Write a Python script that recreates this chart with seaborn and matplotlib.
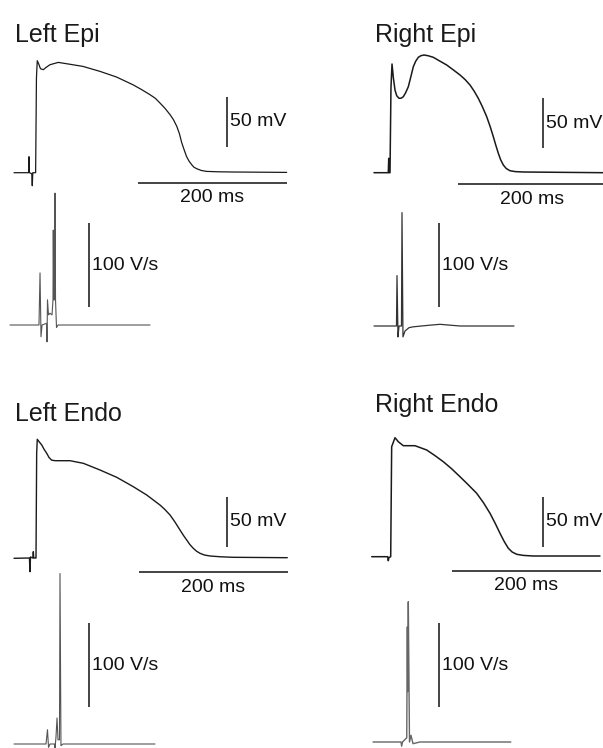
import matplotlib
matplotlib.use('Agg')
import matplotlib.pyplot as plt
import numpy as np
import seaborn as sns

sns.set_style('white')
plt.rcParams['font.family'] = ['Liberation Sans', 'DejaVu Sans']

# action potentials: time (ms, upstroke at 0) and membrane potential (mV)
left_epi_t = [-29.5, -10, -9.4, -8.8, -5.7, -5, -4.3, -0.5, 0.6, 1.7, 3.5, 6, 9.8, 13, 18.8, 29.9,
              45, 63, 86, 108, 130, 142, 153, 160, 166, 173, 180, 184.5, 189, 192.5, 195.6, 198.8,
              202, 205.5, 209, 212, 215.7, 222, 229, 245, 264, 336.5]
left_epi_v = [-85, -85, -69, -85, -86, -98, -85, -85, 10, 27, 24, 19, 18, 20, 23, 25.3,
              23.5, 21.3, 16.3, 10.7, 3, -2, -7, -10.5, -15, -20.5, -27, -32, -38.7, -46, -55, -62,
              -68.7, -73.5, -77, -79.5, -81, -82.8, -83.7, -84.1, -84.3, -84.7]

right_epi_t = [-21.5, -2.3, -1.7, -1.2, 0, 1.3, 2.7, 4.5, 6.7, 9, 12.1, 15, 17.9, 21, 24.6, 28, 31.3, 34.5, 38,
               41.5, 45.6, 51, 58.1, 66, 76.1, 85, 94, 101, 107.4, 113, 118.5, 124, 129.8, 134.5, 138.7,
               142, 145.4, 148.5, 152.1, 156, 161, 168, 178.9, 286.3]
right_epi_v = [-85, -85, -70.6, -85, -85, 0, 23.7, 10, -2.3, -8, -10.6, -10.5, -9, -5, 1, 11, 21, 26.5, 30.4,
               32, 32.7, 32, 30.4, 27, 22.7, 17.8, 12.7, 8, 2.7, -3.5, -10.6, -19, -29, -39, -49,
               -57.5, -65.6, -72, -77.3, -80.8, -83, -83.9, -84.3, -85]

left_endo_t = [-29.5, -8.8, -8.1, -7.4, -4.2, -3.6, -3, -1.3, 0, 0.9, 1.7, 4.5, 7.7, 11, 14.4, 17.5, 21.1, 26,
               32.2, 45.6, 63.5, 85.9, 108.3, 130.6, 148.6, 166.4, 173, 179.9, 186.5, 193.3, 198, 202.3,
               206.5, 211.1, 215.5, 220.1, 226, 233.6, 248, 264.8, 337.3]
left_endo_v = [-85.3, -85, -98.7, -84, -85, -78.7, -85, -85, -85, 20, 33.7, 31, 28, 23.5, 19.7, 15.5, 12.8, 12.3,
               12.3, 12.3, 9.7, 3, -4.3, -13.7, -22, -32, -36.5, -42, -49, -57, -62.5, -67,
               -71.5, -75.3, -78.2, -80.3, -82, -83, -83.8, -84.3, -84.7]

right_endo_t = [-25.5, -4, -3.2, -2.5, 0, 1.3, 5.8, 10.2, 16.9, 32.6, 48.3, 59, 70.6, 82, 93, 104, 115.4,
                124.5, 133.3, 140.5, 146.7, 152.5, 157.9, 163, 169.1, 178, 191.4, 280.9]
right_endo_v = [-85, -85, -89, -86, -85, 25, 34, 30, 26, 26, 21.7, 16.3, 10, 2.8, -5, -13, -21.6,
                -31, -41.6, -52, -61.6, -70, -76.6, -80.3, -82.6, -83.7, -84.3, -84.3]

# dV/dt traces: time (ms, peak at 0) and rate (V/s)
left_epi_dt = [-60.4, -21.5, -20.1, -18.8, -17.4, -11.4, -10.7, -10.1, -8.7, -6.7, -4.0, -2.7, -2.3, -1.7,
               -0.4, 0, 0.7, 2.0, 4.0, 127.5]
left_epi_dv = [0, 0, 62, -14, 0, 2, -20, 30, 12, 14, 12, 30, 113, 30, 30, 157, 30, -3, 0, 0]

right_epi_dt = [-37.6, -7.4, -6.7, -5.4, -4.0, -0.7, 0, 1.3, 4.0, 9.4, 14.8, 37.6, 51, 77.9, 150.3]
right_epi_dv = [0, 0, 60, -13, 0, 0, 135, -13, -6, -2, -1, 1, 2, 0, 0]

left_endo_dt = [-61.7, -18.8, -16.8, -15.4, -13.4, -7.4, -6.7, -5.4, -4.0, -2.7, -0.7, 0, 1.3, 4.0, 127.5]
left_endo_dv = [0, 0, 17, -4, 0, 0, -5, 8, 31, 5, 5, 203, -2, 0, 0]

right_endo_dt = [-47, -9.4, -8.5, -7.4, -1.7, -0.9, -0.4, 0.4, 2, 4, 6.7, 16, 138]
right_endo_dv = [0, 0, -5, 0, 5, 137, 60, 167, 0, 8, -2, 0, 0]

titles = ['Left Epi', 'Right Epi', 'Left Endo', 'Right Endo']

W, H = 603, 748
SX = 0.745   # px per ms
SY_AP = 1.0  # px per mV
SY_DV = 0.84 # px per V/s
LABEL_FS = 14
fig = plt.figure(figsize=(W / 100, H / 100), dpi=100)

ax_x0, ax_y0 = {}, {}


def make(x0, y0, sy, base):
    # full-figure transparent axes: (0 ms, base) sits at pixel (x0, y0)
    ax = fig.add_axes([0, 0, 1, 1])
    ax.set_xlim(-x0 / SX, (W - x0) / SX)
    ax.set_ylim(base + (y0 - H) / sy, base + y0 / sy)
    ax.axis('off')
    ax_x0[ax], ax_y0[ax] = x0, y0
    return ax


def trace(ax, t, v, color, lw):
    sns.lineplot(x=t, y=v, ax=ax, color=color, linewidth=lw, estimator=None, sort=False)


def ap_bars(ax, xv, yv, xh, yh):
    # 50 mV and 200 ms scale bars, positions given in pixels
    t_v = (xv - ax_x0[ax]) / SX
    v_top = -85 + (ax_y0[ax] - yv)
    ax.plot([t_v, t_v], [v_top - 50, v_top], color='#111111', lw=1.1, solid_capstyle='butt')
    ax.text(t_v + 3 / SX, v_top - 25, '50 mV', ha='left', va='center', fontsize=LABEL_FS, color='#111111')
    t_h = (xh - ax_x0[ax]) / SX
    v_h = -85 + (ax_y0[ax] - yh)
    ax.plot([t_h, t_h + 200], [v_h, v_h], color='#111111', lw=1.1, solid_capstyle='butt')
    ax.text(t_h + 100, v_h - 6.5, '200 ms', ha='center', va='top', fontsize=LABEL_FS, color='#111111')


def dv_bar(ax, xv, yv):
    t_v = (xv - ax_x0[ax]) / SX
    r_top = (ax_y0[ax] - yv) / SY_DV
    ax.plot([t_v, t_v], [r_top - 100, r_top], color='#111111', lw=1.1, solid_capstyle='butt')
    ax.text(t_v + 3 / SX, r_top - 50, '100 V/s', ha='left', va='center', fontsize=LABEL_FS, color='#111111')


# action potentials
a = make(36, 172.7, SY_AP, -85)
trace(a, left_epi_t, left_epi_v, '#1a1a1a', 0.9)
ap_bars(a, 227, 97, 138, 183)

a = make(390, 172.7, SY_AP, -85)
trace(a, right_epi_t, right_epi_v, '#1a1a1a', 1.1)
ap_bars(a, 543, 98, 458, 184)

a = make(36, 558, SY_AP, -85)
trace(a, left_endo_t, left_endo_v, '#1a1a1a', 1.0)
ap_bars(a, 227, 497, 139, 572)

a = make(390.7, 556.7, SY_AP, -85)
trace(a, right_endo_t, right_endo_v, '#1a1a1a', 1.1)
ap_bars(a, 543, 497, 452, 571)

# dV/dt
a = make(55, 325, SY_DV, 0)
trace(a, left_epi_dt, left_epi_dv, '#555555', 0.8)
dv_bar(a, 89, 223)

a = make(402, 326, SY_DV, 0)
trace(a, right_epi_dt, right_epi_dv, '#333333', 0.9)
dv_bar(a, 439, 223)

a = make(60, 744, SY_DV, 0)
trace(a, left_endo_dt, left_endo_dv, '#555555', 0.8)
dv_bar(a, 89, 623)

a = make(408, 742, SY_DV, 0)
trace(a, right_endo_dt, right_endo_dv, '#666666', 1.0)
dv_bar(a, 439, 623)

# panel titles
for txt, (x, y) in zip(titles, [(15, 41.7), (375, 41.7), (15, 421), (375, 411.7)]):
    fig.text(x / W, 1 - y / H, txt, fontsize=18, va='baseline', ha='left', color='#1a1a1a')

fig.savefig('out.png', dpi=100)
